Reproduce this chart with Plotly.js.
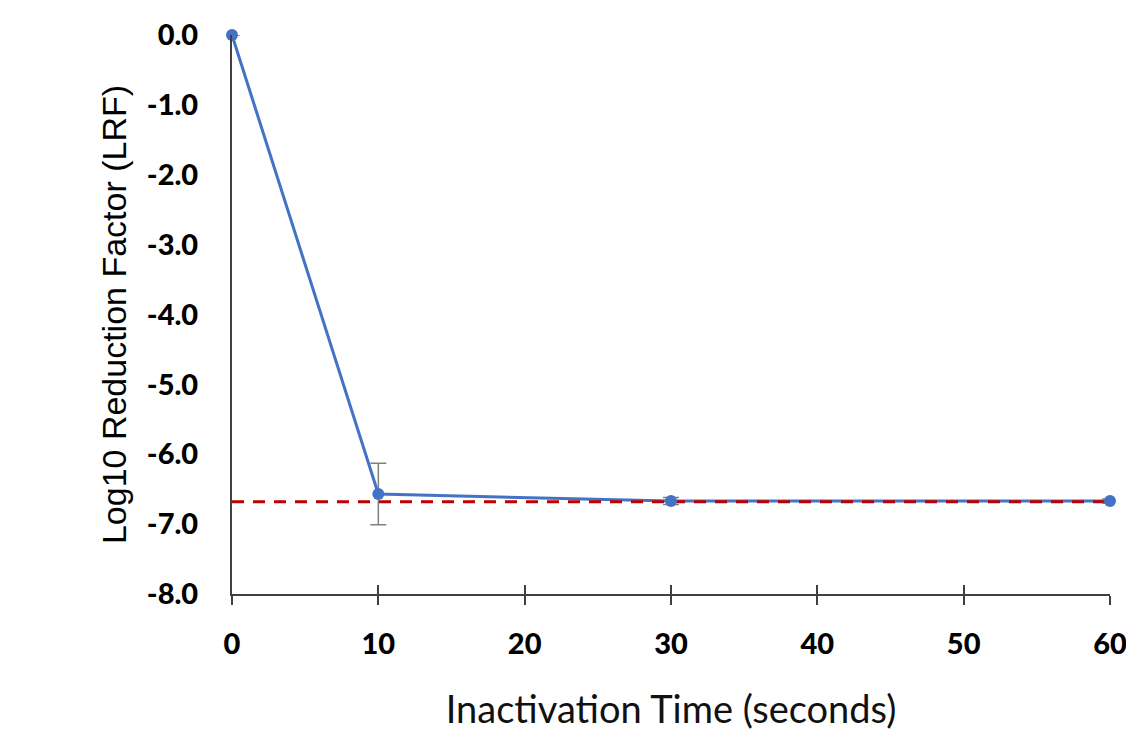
<!DOCTYPE html>
<html>
<head>
<meta charset="utf-8">
<script src="https://cdn.plot.ly/plotly-3.0.1.min.js"></script>
<style>html,body{margin:0;padding:0;background:#fff;}#chart{width:1126px;height:738px;}</style>
</head>
<body>
<div id="chart"></div>
<script>
var times = [0, 10, 30, 60];
var lrf = [0, -6.57, -6.67, -6.67];
var lrfErr = [0, 0.44, 0.05, 0.03];
var limitX = [0, 60];
var limitY = [-6.68, -6.68];
var xTickVals = [0, 10, 20, 30, 40, 50, 60];
var xTickText = ['0', '10', '20', '30', '40', '50', '60'];
var yTickVals = [0, -1, -2, -3, -4, -5, -6, -7, -8];
var yTickText = ['0.0', '-1.0', '-2.0', '-3.0', '-4.0', '-5.0', '-6.0', '-7.0', '-8.0'];

var blue = '#4472C4';
var traces = [
  {x: times, y: lrf, type: 'scatter', mode: 'lines', line: {color: blue, width: 3}, hoverinfo: 'skip', cliponaxis: false},
  {x: limitX, y: limitY, type: 'scatter', mode: 'lines', line: {color: '#C00000', width: 3, dash: '12px,9px'}, cliponaxis: false},
  {x: times, y: lrf, type: 'scatter', mode: 'markers', marker: {color: blue, size: 12},
   error_y: {type: 'data', array: lrfErr, visible: true, color: '#7F7F7F', thickness: 1.5, width: 8}, cliponaxis: false},
  {x: [0], y: [0], xaxis: 'x2', type: 'scatter', mode: 'markers', marker: {opacity: 0}, hoverinfo: 'skip'}
];
var tickFont = {family: 'Lato, sans-serif', size: 29, color: '#000', weight: 900};
var layout = {
  width: 1126, height: 738,
  margin: {l: 232, r: 16, t: 35, b: 144},
  paper_bgcolor: '#fff', plot_bgcolor: '#fff',
  showlegend: false,
  xaxis: {
    range: [0, 60], tickvals: xTickVals, ticktext: xTickText,
    showgrid: false, zeroline: false, showline: true, linecolor: '#404040', linewidth: 2,
    ticks: 'outside', ticklen: 9, tickwidth: 2, tickcolor: '#404040',
    ticklabelstandoff: 14, ticklabeloverflow: 'allow',
    tickfont: tickFont,
    title: {text: 'Inactivation Time (seconds)', font: {family: 'Lato, sans-serif', size: 38, color: '#111'}, standoff: 38}
  },
  xaxis2: {
    overlaying: 'x', matches: 'x', range: [0, 60], tickvals: xTickVals, showticklabels: false,
    showgrid: false, zeroline: false, showline: false,
    ticks: 'inside', ticklen: 9, tickwidth: 2, tickcolor: '#404040'
  },
  yaxis: {
    range: [-8, 0], tickvals: yTickVals, ticktext: yTickText,
    showgrid: false, zeroline: false, showline: true, linecolor: '#404040', linewidth: 2,
    ticks: '', ticklabelstandoff: 26,
    tickfont: tickFont,
    title: {text: 'Log10 Reduction Factor (LRF)', font: {family: 'Liberation Sans, Arial, sans-serif', size: 34, color: '#000', weight: 500}, standoff: 10}
  }
};
Plotly.newPlot('chart', traces, layout, {displayModeBar: false, staticPlot: true});
</script>
</body>
</html>
